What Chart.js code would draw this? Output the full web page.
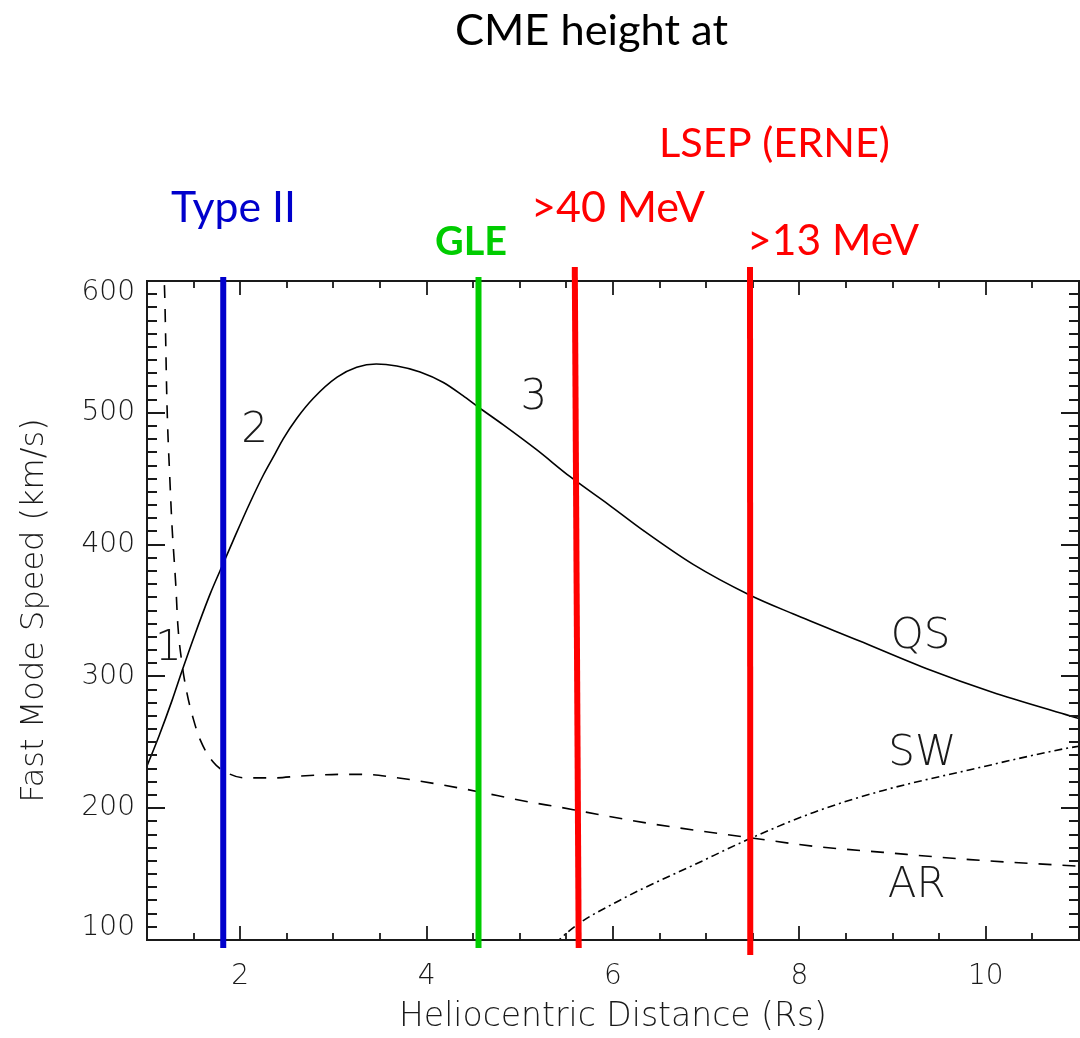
<!DOCTYPE html>
<html>
<head>
<meta charset="utf-8">
<script src="https://cdn.jsdelivr.net/npm/chart.js@4.4.1/dist/chart.umd.min.js"></script>
<style>
html,body{margin:0;padding:0;background:#ffffff;}
canvas{display:block;}
</style>
</head>
<body>
<canvas id="c" width="1080" height="1038"></canvas>
<script>
// ---------------- data ----------------
// QS : quiet-Sun fast-mode speed (solid)
const qsX = [1.0, 1.13, 1.27, 1.38, 1.52, 1.68, 1.82, 1.93, 2.1, 2.25, 2.375, 2.46, 2.61, 2.785, 3.04, 3.25, 3.46, 3.68, 3.93, 4.18, 4.39, 4.55, 4.82, 5.18, 5.54, 5.96, 6.32, 6.86, 7.46, 7.93, 8.64, 9.36, 10.07, 10.86, 11.0];
const qsY = [232, 255, 282, 305, 333, 363, 386, 404, 431, 453, 469, 480, 496, 511, 527, 534.5, 537, 535.5, 531, 523, 513, 504.6, 491, 472, 451.5, 430, 411, 385, 362, 347.5, 327, 306, 288, 271, 268];
// AR : active-region fast-mode speed (dashed)
const arX = [1.175, 1.19, 1.215, 1.245, 1.27, 1.29, 1.31, 1.33, 1.375, 1.43, 1.5, 1.57, 1.71, 1.87, 2.05, 2.37, 2.64, 3.14, 3.39, 3.64, 3.89, 4.14, 4.39, 4.64, 4.89, 5.14, 5.41, 5.71, 6.43, 7.47, 8.17, 8.9, 9.83, 10.75, 11.0];
const arY = [615, 590, 505, 450, 412, 390, 368, 340, 310, 287, 267, 252, 235, 226.5, 223, 223, 224.4, 225.7, 225.5, 223.5, 221, 218, 214.8, 211.3, 207.6, 204.2, 201, 197, 188, 177.6, 171, 166.5, 161, 157, 156];
// SW : solar-wind fast-mode speed (dash-dot)
const swX = [5.38, 5.42, 5.645, 6.07, 6.32, 6.87, 7.44, 8.16, 8.9, 9.82, 10.87, 11.0];
const swY = [97, 100, 113, 130, 139, 157, 176, 197, 213.5, 229, 245.5, 247];

// axis ticks
const xTickValues = [2, 4, 6, 8, 10];
const xTickLabels = ['2', '4', '6', '8', '10'];
const yTickValues = [100, 200, 300, 400, 500, 600];
const yTickLabels = ['100', '200', '300', '400', '500', '600'];

// CME heights (vertical marker lines): x at top and bottom of each line
const markerNames = ['Type II', 'GLE', '>40 MeV', '>13 MeV'];
const markerTopX = [1.818, 4.557, 5.59, 7.47];
const markerBottomX = [1.818, 4.557, 5.632, 7.473];

// curve labels inside the plot (data coordinates)
const curveLabels = ['1', '2', '3', 'QS', 'SW', 'AR'];
const curveLabelX = [1.23, 2.155, 5.15, 9.30, 9.32, 9.26];
const curveLabelY = [321, 486, 511, 330, 241, 141];

// ---------------- styles ----------------
const AXIS_FONT = "'DejaVu Sans', sans-serif";
const AXIS_WEIGHT = '300';
const HEAD_FONT = "Lato, 'Open Sans', sans-serif";
const INK = '#1a1a1a';
const markerStyle = [
  {color: '#0000cc', topExt: 4, botExt: 8},
  {color: '#00cc00', topExt: 4, botExt: 8},
  {color: '#ff0000', topExt: 14, botExt: 8},
  {color: '#ff0000', topExt: 14, botExt: 15}
];
const headerTexts = [
  {text: 'CME height at', left: 455, right: 728, base: 45, color: '#000000', weight: 'normal'},
  {text: 'LSEP (ERNE)', left: 659, right: 890, base: 157, color: '#ff0000', weight: 'normal'},
  {text: markerNames[0], left: 171, right: 296, base: 222, color: '#0000cc', weight: 'normal'},
  {text: markerNames[2], left: 531, right: 705, base: 222, color: '#ff0000', weight: 'normal'},
  {text: markerNames[1], left: 435, right: 507, base: 255, color: '#00cc00', weight: 'bold'},
  {text: markerNames[3], left: 747, right: 919, base: 255, color: '#ff0000', weight: 'normal'}
];

const toPts = (xs, ys) => xs.map((x, i) => ({x: x, y: ys[i]}));

const idlPlugin = {
  id: 'idlPlugin',
  afterDatasetsDraw(chart) {
    const ctx = chart.ctx;
    const xs = chart.scales.x, ys = chart.scales.y;
    const a = chart.chartArea;
    ctx.save();
    // frame
    ctx.strokeStyle = INK;
    ctx.lineWidth = 2;
    ctx.strokeRect(a.left, a.top, a.right - a.left, a.bottom - a.top);
    // inward ticks on x (bottom + top)
    ctx.lineWidth = 1.8;
    ctx.beginPath();
    for (let v = xs.min + 0.5; v < xs.max - 0.01; v += 0.5) {
      const p = Math.round(xs.getPixelForValue(v));
      const len = (Math.abs(v % 2) < 1e-6) ? 14 : 7;
      ctx.moveTo(p, a.bottom); ctx.lineTo(p, a.bottom - len);
      ctx.moveTo(p, a.top); ctx.lineTo(p, a.top + len);
    }
    // inward ticks on y (left + right)
    for (let v = ys.min + 10; v < ys.max - 0.01; v += 10) {
      const p = Math.round(ys.getPixelForValue(v));
      const len = (Math.abs(v % 100) < 1e-6) ? 18 : 10;
      ctx.moveTo(a.left, p); ctx.lineTo(a.left + len, p);
      ctx.moveTo(a.right, p); ctx.lineTo(a.right - len, p);
    }
    ctx.stroke();
    // curve labels
    ctx.fillStyle = INK;
    ctx.font = AXIS_WEIGHT + " 42px " + AXIS_FONT;
    ctx.textAlign = 'center';
    ctx.textBaseline = 'middle';
    curveLabels.forEach((t, i) => {
      ctx.fillText(t, xs.getPixelForValue(curveLabelX[i]), ys.getPixelForValue(curveLabelY[i]));
    });
    // marker lines (CME heights)
    ctx.lineWidth = 6;
    ctx.lineCap = 'butt';
    markerTopX.forEach((xt, i) => {
      const st = markerStyle[i];
      ctx.strokeStyle = st.color;
      ctx.beginPath();
      ctx.moveTo(xs.getPixelForValue(xt), a.top - st.topExt);
      ctx.lineTo(xs.getPixelForValue(markerBottomX[i]), a.bottom + st.botExt);
      ctx.stroke();
    });
    ctx.restore();
  },
  afterDraw(chart) {
    const ctx = chart.ctx;
    ctx.save();
    ctx.textAlign = 'left';
    ctx.textBaseline = 'alphabetic';
    headerTexts.forEach(h => {
      ctx.font = h.weight + " 100px " + HEAD_FONT;
      const w = ctx.measureText(h.text).width;
      const size = 100 * (h.right - h.left) / w;
      ctx.font = h.weight + " " + size.toFixed(2) + "px " + HEAD_FONT;
      ctx.fillStyle = h.color;
      ctx.fillText(h.text, h.left, h.base);
    });
    ctx.restore();
  }
};

new Chart(document.getElementById('c'), {
  type: 'line',
  data: {
    datasets: [
      {label: 'QS', data: toPts(qsX, qsY), borderColor: '#000', borderWidth: 1.6, pointRadius: 0, fill: false, cubicInterpolationMode: 'monotone'},
      {label: 'AR', data: toPts(arX, arY), borderColor: '#000', borderWidth: 1.6, borderDash: [13, 11], pointRadius: 0, fill: false, cubicInterpolationMode: 'monotone'},
      {label: 'SW', data: toPts(swX, swY), borderColor: '#000', borderWidth: 1.6, borderDash: [8, 4, 2, 4], pointRadius: 0, fill: false, cubicInterpolationMode: 'monotone'}
    ]
  },
  options: {
    responsive: false,
    animation: false,
    devicePixelRatio: 1,
    layout: {padding: {top: 281, right: 1, left: 0, bottom: 0}},
    plugins: {legend: {display: false}, tooltip: {enabled: false}, title: {display: false}},
    scales: {
      x: {
        type: 'linear', min: 1, max: 11,
        grid: {display: false, drawTicks: false},
        border: {display: false},
        afterBuildTicks: (s) => { s.ticks = xTickValues.map(v => ({value: v})); },
        afterFit: (s) => { s.height = 98; },
        ticks: {
          color: INK, padding: 20, maxRotation: 0, autoSkip: false,
          font: {family: AXIS_FONT, size: 28, weight: AXIS_WEIGHT},
          callback: (v) => xTickLabels[xTickValues.indexOf(v)]
        },
        title: {display: true, text: 'Heliocentric Distance (Rs)', color: INK,
          font: {family: AXIS_FONT, size: 33, weight: AXIS_WEIGHT}, padding: {top: 0, bottom: 1}}
      },
      y: {
        type: 'linear', min: 100, max: 600,
        grid: {display: false, drawTicks: false},
        border: {display: false},
        afterBuildTicks: (s) => { s.ticks = yTickValues.map(v => ({value: v})); },
        afterFit: (s) => { s.width = 147; },
        ticks: {
          color: INK, padding: 12, autoSkip: false,
          font: {family: AXIS_FONT, size: 28, weight: AXIS_WEIGHT, lineHeight: 24 / 28},
          callback: (v) => {
            const lab = yTickLabels[yTickValues.indexOf(v)];
            if (v === yTickValues[yTickValues.length - 1]) return ['', lab];
            if (v === yTickValues[0]) return [lab, ''];
            return lab;
          }
        },
        title: {display: true, text: 'Fast Mode Speed (km/s)', color: INK,
          font: {family: AXIS_FONT, size: 32, weight: AXIS_WEIGHT}, padding: {top: 15, bottom: 0}}
      }
    }
  },
  plugins: [idlPlugin]
});
</script>
</body>
</html>
